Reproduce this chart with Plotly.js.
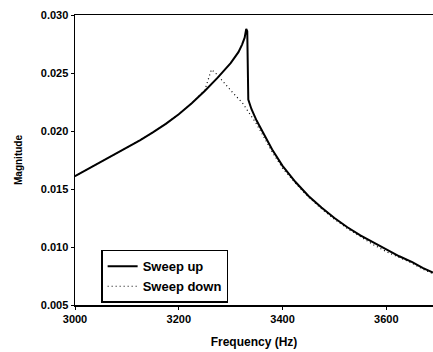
<!DOCTYPE html>
<html>
<head>
<meta charset="utf-8">
<script src="https://cdn.plot.ly/plotly-3.0.1.min.js"></script>
<style>html,body{margin:0;padding:0;background:#fff;}#chart{width:433px;height:352px;}</style>
</head>
<body>
<div id="chart"></div>
<script>
const freqUp = [3000,3025,3050,3075,3100,3125,3150,3175,3200,3225,3250,3275,3300,3315,3322,3327,3330,3332,3334,3340,3350,3365,3380,3400,3425,3450,3475,3500,3525,3550,3575,3590,3600,3625,3650,3670,3690];
const magUp  = [0.0161,0.01672,0.01733,0.01794,0.01856,0.0192,0.01988,0.02062,0.02145,0.0224,0.02345,0.0246,0.02585,0.0268,0.02745,0.02805,0.0288,0.0286,0.0227,0.0219,0.0209,0.0196,0.0184,0.0170,0.0156,0.0144,0.0134,0.0125,0.0117,0.0110,0.0104,0.0100,0.0098,0.0092,0.0087,0.0082,0.0078];
const freqDown = [3000,3025,3050,3075,3100,3125,3150,3175,3200,3225,3250,3257,3263,3273,3284,3303,3323,3335,3350,3365,3380,3400,3425,3450,3475,3500,3525,3550,3575,3600,3625,3650,3670,3690];
const magDown  = [0.0161,0.01672,0.01733,0.01794,0.01856,0.0192,0.01988,0.02062,0.02145,0.0224,0.0235,0.0245,0.0253,0.0249,0.0243,0.02336,0.0224,0.0216,0.0206,0.0194,0.0182,0.0168,0.0155,0.0143,0.0133,0.0124,0.0116,0.0109,0.0102,0.0096,0.0091,0.0086,0.0081,0.0077];
const xTicks = [3000,3200,3400,3600];
const yTicks = [0.005,0.010,0.015,0.020,0.025,0.030];
const yTickText = ['0.005','0.010','0.015','0.020','0.025','0.030'];
const names = ['Sweep up','Sweep down'];

const font = {family:'Liberation Sans, Arial, sans-serif', color:'#000'};
const data = [
  {x:freqUp, y:magUp, name:names[0], mode:'lines', line:{color:'#000', width:2}},
  {x:freqDown, y:magDown, name:names[1], mode:'lines', line:{color:'#000', width:1.2, dash:'1px,3px'}}
];
const layout = {
  width:433, height:352,
  margin:{l:75, r:0, t:15, b:47},
  paper_bgcolor:'#fff', plot_bgcolor:'#fff',
  showlegend:true,
  legend:{x:0.073, y:0.19, xanchor:'left', yanchor:'top', bgcolor:'#fff', bordercolor:'#000', borderwidth:1.5,
          font:Object.assign({size:13, weight:'bold'}, font), tracegroupgap:0},
  xaxis:{range:[3000,3690], tickvals:xTicks, ticktext:xTicks.map(String), showgrid:false, zeroline:false,
         showline:true, linecolor:'#000', linewidth:1.5, mirror:true, ticks:'outside', ticklen:3, tickcolor:'#000',
         tickfont:Object.assign({size:11, weight:'bold'}, font),
         title:{text:'Frequency (Hz)', font:Object.assign({size:12, weight:'bold'}, font), standoff:14}},
  yaxis:{range:[0.005,0.030], tickvals:yTicks, ticktext:yTickText, showgrid:false, zeroline:false,
         showline:true, linecolor:'#000', linewidth:1.5, ticks:'outside', ticklen:3, tickcolor:'#000',
         tickfont:Object.assign({size:11, weight:'bold'}, font),
         title:{text:'Magnitude', font:Object.assign({size:10, weight:'bold'}, font), standoff:16}}
};
Plotly.newPlot('chart', data, layout, {displayModeBar:false, staticPlot:true});
</script>
</body>
</html>
